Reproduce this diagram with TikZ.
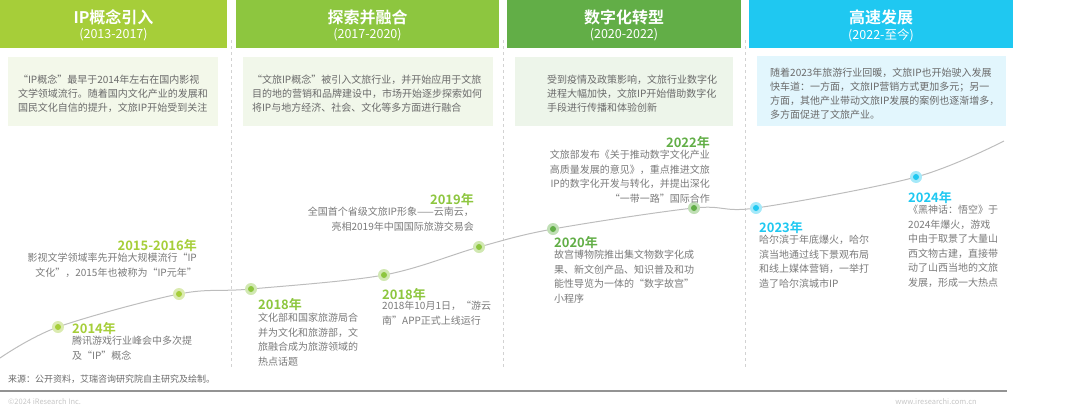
\documentclass[tikz,border=0pt]{standalone}
\usepackage{fontspec}
\setmainfont{Noto Sans CJK SC}[BoldFont={Noto Sans CJK SC Bold}]
\usetikzlibrary{positioning}
\definecolor{cA}{HTML}{A6CE39}
\definecolor{cB}{HTML}{8DC63F}
\definecolor{cC}{HTML}{62AE47}
\definecolor{cD}{HTML}{1FC8F1}
\definecolor{bxA}{HTML}{F3F8EA}
\definecolor{bxB}{HTML}{F1F7EA}
\definecolor{bxC}{HTML}{EDF5EA}
\definecolor{bxD}{HTML}{E2F6FD}
\definecolor{txt}{HTML}{7A7A7A}
\definecolor{boxtxt}{HTML}{6A6A6A}
\definecolor{sep}{HTML}{D2D2D2}
\definecolor{curve}{HTML}{BDBDBD}
\tikzset{
  hdrtitle/.style={text=white, font=\fontsize{16}{18}\selectfont\bfseries, inner sep=0pt},
  hdrsub/.style={text=white, font=\fontsize{12.5}{14}\selectfont, inner sep=0pt},
  desctext/.style={text=boxtxt, font=\fontsize{10}{14}\selectfont, align=left, inner sep=0pt},
  sepline/.style={draw=sep, dash pattern=on 3pt off 3pt, line width=0.8pt},
  halo/.style={circle, fill=#1!40, draw=none, inner sep=0pt, minimum size=12pt},
  core/.style={fill=#1},
  yearlbl/.style={text=#1, font=\fontsize{13}{15}\selectfont\bfseries, inner sep=0pt},
  evtext/.style={text=txt, font=\fontsize{10}{14.5}\selectfont, inner sep=0pt},
}
\begin{document}
\begin{tikzpicture}[x=1pt,y=-1pt]
\useasboundingbox (0,0) rectangle (1080,410);
% headers
\fill[cA] (0,0) rectangle (227,48);
\fill[cB] (236,0) rectangle (499,48);
\fill[cC] (507,0) rectangle (741,48);
\fill[cD] (749,0) rectangle (1013,48);
\node[hdrtitle] (h1) at (113.5,17) {IP概念引入};
\node[hdrsub] (h1s) at (113.5,35) {(2013-2017)};
\node[hdrtitle] (h2) at (367.5,17) {探索并融合};
\node[hdrsub] (h2s) at (367.5,35) {(2017-2020)};
\node[hdrtitle] (h3) at (624,17) {数字化转型};
\node[hdrsub] (h3s) at (624,35) {(2020-2022)};
\node[hdrtitle] (h4) at (881,17) {高速发展};
\node[hdrsub] (h4s) at (881,35) {(2022-至今)};
% separators
\draw[sepline] (231.5,40) -- (231.5,368);
\draw[sepline] (503,40) -- (503,368);
\draw[sepline] (745,40) -- (745,368);
% description boxes
\fill[bxA] (8,57) rectangle (218,126);
\fill[bxB] (243,57) rectangle (493,126);
\fill[bxC] (515,57) rectangle (733,126);
\fill[bxD] (757,56) rectangle (1006,126);
\node[desctext] (d1) at (113,94) {“IP概念”最早于2014年左右在国内影视\\文学领域流行。随着国内文化产业的发展和\\国民文化自信的提升，文旅IP开始受到关注};
\node[desctext] (d2) at (367,94) {“文旅IP概念”被引入文旅行业，并开始应用于文旅\\目的地的营销和品牌建设中，市场开始逐步探索如何\\将IP与地方经济、社会、文化等多方面进行融合};
\node[desctext, anchor=west] (d3) at (547,94) {受到疫情及政策影响，文旅行业数字化\\进程大幅加快，文旅IP开始借助数字化\\手段进行传播和体验创新};
\node[desctext, anchor=west] (d4) at (770,94) {随着2023年旅游行业回暖，文旅IP也开始驶入发展\\快车道：一方面，文旅IP营销方式更加多元；另一\\方面，其他产业带动文旅IP发展的案例也逐渐增多，\\多方面促进了文旅产业。};
% timeline curve
\coordinate (cs) at (0,358);
\coordinate (ce) at (1004,141);
\coordinate (p1) at (58,327);
\coordinate (p2) at (179,294);
\coordinate (p3) at (251,289);
\coordinate (p4) at (384,275);
\coordinate (p5) at (479,247);
\coordinate (p6) at (553,229);
\coordinate (p7) at (694,208);
\coordinate (p8) at (756,208);
\coordinate (p9) at (916,177);
\draw[curve, line width=1pt] plot[smooth, tension=0.55] coordinates {(cs) (p1) (p2) (p3) (p4) (p5) (p6) (p7) (p8) (p9) (ce)};
% dots
\node[halo=cA] (n1) at (p1) {};
\node[halo=cA] (n2) at (p2) {};
\node[halo=cB] (n3) at (p3) {};
\node[halo=cB] (n4) at (p4) {};
\node[halo=cB] (n5) at (p5) {};
\node[halo=cC] (n6) at (p6) {};
\node[halo=cC] (n7) at (p7) {};
\node[halo=cD] (n8) at (p8) {};
\node[halo=cD] (n9) at (p9) {};
\fill[core=cA] (n1) circle (3);
\fill[core=cA] (n2) circle (3);
\fill[core=cB] (n3) circle (3);
\fill[core=cB] (n4) circle (3);
\fill[core=cB] (n5) circle (3);
\fill[core=cC] (n6) circle (3);
\fill[core=cC] (n7) circle (3);
\fill[core=cD] (n8) circle (3);
\fill[core=cD] (n9) circle (3);
% events
\node[yearlbl=cA, anchor=west] (y1) at (72,329) {2014年};
\node[evtext, anchor=north west, align=left] (e1) at (72,336) {腾讯游戏行业峰会中多次提\\及“IP”概念};
\node[yearlbl=cA, anchor=east] (y2) at (197,246) {2015-2016年};
\node[evtext, anchor=north east, align=right] (e2) at (197,253) {影视文学领域率先开始大规模流行“IP\\文化”，2015年也被称为“IP元年”};
\node[yearlbl=cB, anchor=west] (y3) at (258,305) {2018年};
\node[evtext, anchor=north west, align=left] (e3) at (258,313) {文化部和国家旅游局合\\并为文化和旅游部，文\\旅融合成为旅游领域的\\热点话题};
\node[yearlbl=cB, anchor=west] (y4) at (382,295) {2018年};
\node[evtext, anchor=north west, align=left] (e4) at (382,301) {2018年10月1日，“游云\\南”APP正式上线运行};
\node[yearlbl=cB, anchor=east] (y5) at (474,200) {2019年};
\node[evtext, anchor=north east, align=right] (e5) at (474,207) {全国首个省级文旅IP形象——云南云，\\亮相2019年中国国际旅游交易会};
\node[yearlbl=cC, anchor=east] (y7) at (710,143) {2022年};
\node[evtext, anchor=north east, align=right] (e7) at (710,150) {文旅部发布《关于推动数字文化产业\\高质量发展的意见》，重点推进文旅\\IP的数字化开发与转化，并提出深化\\“一带一路”国际合作};
\node[yearlbl=cC, anchor=west] (y6) at (554,243) {2020年};
\node[evtext, anchor=north west, align=left] (e6) at (554,250) {故宫博物院推出集文物数字化成\\果、新文创产品、知识普及和功\\能性导览为一体的“数字故宫”\\小程序};
\node[yearlbl=cD, anchor=west] (y8) at (759,228) {2023年};
\node[evtext, anchor=north west, align=left] (e8) at (759,235) {哈尔滨于年底爆火，哈尔\\滨当地通过线下景观布局\\和线上媒体营销，一举打\\造了哈尔滨城市IP};
\node[yearlbl=cD, anchor=west] (y9) at (908,198) {2024年};
\node[evtext, anchor=north west, align=left] (e9) at (908,205) {《黑神话：悟空》于\\2024年爆火，游戏\\中由于取景了大量山\\西文物古建，直接带\\动了山西当地的文旅\\发展，形成一大热点};
% footer
\node[text=boxtxt, font=\fontsize{9}{11}\selectfont, anchor=west, inner sep=0pt] (src) at (8,379) {来源：公开资料，艾瑞咨询研究院自主研究及绘制。};
\draw[draw=gray!85, line width=1.3pt] (0,391) -- (1007,391);
\node[text=gray!45, font=\fontsize{7.5}{9}\selectfont, anchor=west, inner sep=0pt] (cp) at (8,402) {©2024 iResearch Inc.};
\node[text=gray!45, font=\fontsize{7.5}{9}\selectfont, anchor=east, inner sep=0pt] (www) at (977,402) {www.iresearchi.com.cn};
\end{tikzpicture}
\end{document}
